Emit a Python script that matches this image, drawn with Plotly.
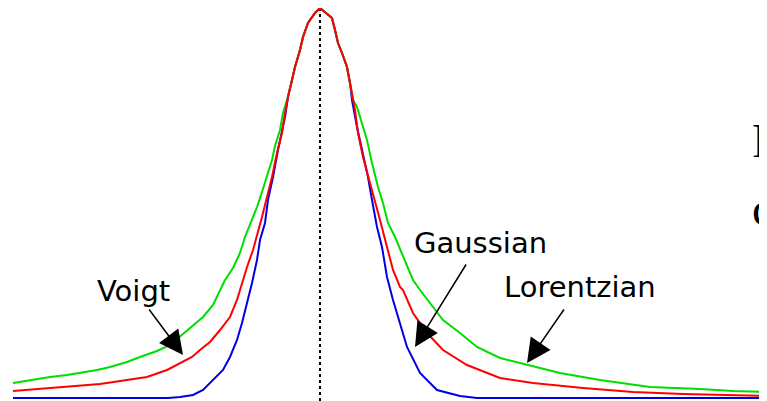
import plotly.graph_objects as go

# profile samples: offset from line centre, intensity (arb. units)
green_x = [-307, -290, -270, -253, -240, -223, -210, -193, -180, -163, -150, -138, -127, -117,
           -107, -95, -87, -80, -75, -68, -63, -58, -53, -48, -45, -40, -37, -33, -28, -25,
           -20, -17, -12, -5, 0, 5, 12, 15, 18, 22, 27, 30, 33, 37, 42, 47, 52, 58, 63, 68,
           75, 82, 90, 93, 100, 113, 123, 140, 157, 180, 207, 240, 280, 330, 380, 413, 447]
green_y = [15, 18, 21, 23, 25, 28, 31, 36, 41, 47, 53, 63, 73, 81,
           93, 118, 130, 145, 161, 178, 191, 206, 222, 238, 252, 268, 285, 298, 318, 331,
           348, 361, 375, 385, 390, 386, 380, 368, 355, 345, 331, 315, 298, 291, 275, 258, 235, 211, 195, 175,
           161, 145, 125, 118, 108, 91, 78, 65, 51, 40, 33, 25, 18, 11, 9, 7, 6]

red_x = [-307, -280, -243, -220, -193, -173, -153, -137, -128, -120, -110, -100, -90, -83,
         -78, -73, -67, -62, -58, -52, -48, -43, -38, -35, -32, -28, -25, -20, -17, -12, -5, 0,
         5, 12, 15, 18, 22, 27, 30, 33, 35, 38, 43, 50, 55, 60, 67, 73, 80, 83, 93, 107,
         123, 147, 180, 213, 263, 313, 363, 447]
red_y = [7, 9, 12, 14, 18, 21, 28, 36, 41, 48, 56, 68, 81, 98,
         115, 131, 148, 165, 181, 205, 221, 245, 265, 285, 301, 318, 331, 348, 361, 375, 385, 390,
         386, 380, 368, 355, 345, 331, 315, 298, 288, 265, 241, 215, 195, 178, 151, 128, 111, 108, 85, 65,
         48, 33, 20, 15, 10, 6, 4, 2]

blue_x = [-307, -152, -140, -127, -117, -107, -97, -90, -83, -78, -72, -68, -63, -60, -55,
          -52, -47, -42, -35, -32, -28, -25, -20, -17, -12, -5, 0, 5, 12, 15, 18, 22, 27, 30,
          32, 37, 43, 48, 52, 57, 62, 67, 73, 80, 87, 100, 117, 140, 157, 447]
blue_y = [0, 0, 1, 3, 8, 18, 28, 41, 58, 75, 98, 115, 138, 158, 175,
          198, 221, 248, 281, 301, 318, 331, 348, 361, 375, 385, 390, 386, 380, 368, 355, 345, 331, 315,
          298, 271, 245, 221, 198, 171, 151, 121, 98, 75, 51, 25, 8, 2, 0, 0]

labels = ["Voigt", "Gaussian", "Lorentzian"]
label_pos = [(-187, 107), (160, 155), (260, 111)]
arrows = [((-172, 90), (-137, 43)), ((147, 135), (95, 51)), ((245, 90), (207, 35))]

fig = go.Figure()
fig.add_trace(go.Scatter(x=blue_x, y=blue_y, mode="lines", line=dict(color="#0000e6", width=2)))
fig.add_trace(go.Scatter(x=green_x, y=green_y, mode="lines", line=dict(color="#00dd00", width=2)))
fig.add_trace(go.Scatter(x=red_x, y=red_y, mode="lines", line=dict(color="#ff0000", width=2)))

# centre line
fig.add_shape(type="line", x0=0, x1=0, y0=390, y1=-3,
              line=dict(color="black", width=2, dash="dot"), layer="below")

for txt, (x, y) in zip(labels, label_pos):
    fig.add_annotation(x=x, y=y, text=txt, showarrow=False,
                       font=dict(family="DejaVu Sans", size=29, color="black"))

for (tail, tip) in arrows:
    fig.add_annotation(x=tip[0], y=tip[1], ax=tail[0], ay=tail[1], axref="x", ayref="y",
                       text="", showarrow=True, arrowhead=2, arrowsize=3.2, arrowwidth=1.5,
                       arrowcolor="black")

# clipped slide text on the right
fig.add_annotation(x=430, y=258, text="F", showarrow=False, xanchor="left",
                   font=dict(family="Liberation Serif", size=48, color="black"))
fig.add_annotation(x=430, y=190, text="c", showarrow=False, xanchor="left",
                   font=dict(family="Liberation Serif", size=48, color="black"))

# page body has an 8px margin: figure shrunk by 8px and axes shifted to match
fig.update_layout(width=759, height=393, margin=dict(l=0, r=0, t=0, b=0),
                  plot_bgcolor="white", paper_bgcolor="white", showlegend=False)
fig.update_xaxes(range=[-312, 447], visible=False)
fig.update_yaxes(range=[-3, 390], visible=False)

fig.write_html("out.html")
